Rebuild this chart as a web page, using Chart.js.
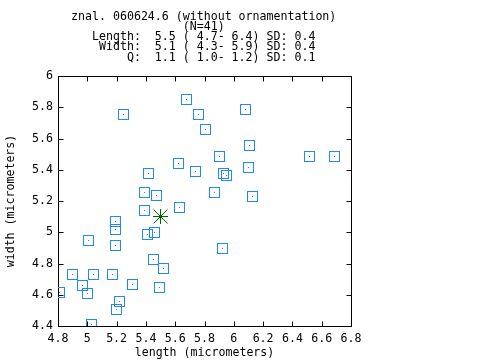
<!DOCTYPE html>
<html>
<head>
<meta charset="utf-8">
<script src="https://cdn.jsdelivr.net/npm/chart.js@4.4.1/dist/chart.umd.min.js"></script>
<style>
  html, body { margin: 0; padding: 0; background: #fff; }
  #wrap { position: relative; width: 480px; height: 360px; }
</style>
</head>
<body>
<div id="wrap"><canvas id="sizeChart" width="480" height="360"></canvas></div>
<script>
const lengths = [5.25, 5.42, 5.39, 5.68, 5.76, 5.81, 6.08, 5.90, 5.62, 5.74,
  5.93, 5.95, 6.10, 5.87, 5.47, 6.13, 5.63, 6.11, 6.52, 6.69,
  5.39, 5.19, 5.19, 5.01, 5.41, 5.19, 5.45, 4.90, 5.04, 5.17,
  4.97, 5.00, 5.31, 4.81, 5.22, 5.20, 5.03, 5.46, 5.92, 5.52, 5.49];
const widths = [5.755, 5.378, 5.256, 5.851, 5.755, 5.659, 5.787, 5.487, 5.442, 5.391,
  5.378, 5.361, 5.416, 5.256, 5.237, 5.231, 5.160, 5.557, 5.487, 5.487,
  5.141, 5.071, 5.020, 4.949, 4.988, 4.918, 4.828, 4.732, 4.732, 4.732,
  4.662, 4.611, 4.668, 4.617, 4.559, 4.508, 4.412, 5.001, 4.898, 4.770, 4.649];
const meanLength = [5.5];
const meanWidth = [5.1];

const xTicks = [4.8, 5, 5.2, 5.4, 5.6, 5.8, 6, 6.2, 6.4, 6.6, 6.8];
const yTicks = [4.4, 4.6, 4.8, 5, 5.2, 5.4, 5.6, 5.8, 6];

const headerLines = [
  "znal. 060624.6 (without ornamentation)",
  "(N=41)",
  "Length:  5.5 ( 4.7- 6.4) SD: 0.4",
  " Width:  5.1 ( 4.3- 5.9) SD: 0.4",
  "     Q:  1.1 ( 1.0- 1.2) SD: 0.1",
];

const MONO = "'DejaVu Sans Mono', 'Liberation Mono', monospace";
const FONT_SIZE = 11.6;
const boxColor = "#1e88ff";
const starColor = "#006400";

// marker images: open square with a dot, and a gnuplot-like asterisk
function makeBox() {
  const c = document.createElement("canvas");
  c.width = 11; c.height = 11;
  const g = c.getContext("2d");
  g.strokeStyle = boxColor;
  g.lineWidth = 1;
  g.strokeRect(0.5, 0.5, 10, 10);
  g.fillStyle = boxColor;
  g.fillRect(5, 5, 1, 1);
  return c;
}

function makeStar() {
  const c = document.createElement("canvas");
  c.width = 15; c.height = 15;
  const g = c.getContext("2d");
  g.strokeStyle = starColor;
  g.lineWidth = 1;
  g.beginPath();
  g.moveTo(0, 7.5); g.lineTo(15, 7.5);
  g.moveTo(7.5, 0); g.lineTo(7.5, 15);
  g.moveTo(0.5, 0.5); g.lineTo(14.5, 14.5);
  g.moveTo(14.5, 0.5); g.lineTo(0.5, 14.5);
  g.stroke();
  g.fillStyle = starColor;
  g.fillRect(6, 6, 3, 3);
  return c;
}

const framePlugin = {
  id: "frame",
  beforeDatasetsDraw(chart) {
    const { ctx, chartArea: a, scales } = chart;
    // snap markers to whole pixels so the image markers stay crisp
    chart.data.datasets.forEach((ds, i) => {
      chart.getDatasetMeta(i).data.forEach((pt) => {
        pt.x = Math.floor(pt.x) + 0.5;
        pt.y = Math.floor(pt.y) + 0.5;
      });
    });
    const L = Math.round(a.left) + 0.5, R = Math.round(a.right) + 0.5;
    const T = Math.round(a.top) + 0.5, B = Math.round(a.bottom) + 0.5;
    ctx.save();
    ctx.strokeStyle = "#000";
    ctx.lineWidth = 1;
    ctx.beginPath();
    xTicks.forEach((v) => {
      const px = Math.round(scales.x.getPixelForValue(v)) + 0.5;
      ctx.moveTo(px, B); ctx.lineTo(px, B - 5);
      ctx.moveTo(px, T); ctx.lineTo(px, T + 5);
    });
    yTicks.forEach((v) => {
      const py = Math.round(scales.y.getPixelForValue(v)) + 0.5;
      ctx.moveTo(L, py); ctx.lineTo(L + 5, py);
      ctx.moveTo(R, py); ctx.lineTo(R - 5, py);
    });
    ctx.stroke();
    ctx.strokeRect(L, T, R - L, B - T);
    ctx.restore();
  },
  afterDraw(chart) {
    const { ctx, chartArea: a } = chart;
    const cx = (a.left + a.right) / 2 - 0.8;
    ctx.save();
    ctx.fillStyle = "#000";
    ctx.font = FONT_SIZE + "px " + MONO;
    ctx.textAlign = "center";
    ctx.textBaseline = "alphabetic";
    headerLines.forEach((line, i) => {
      ctx.fillText(line, cx, 19.5 + i * 10.25);
    });
    ctx.restore();
  },
};

const tickFont = { family: MONO, size: FONT_SIZE };

new Chart(document.getElementById("sizeChart"), {
  type: "scatter",
  data: {
    datasets: [
      {
        label: "spores",
        data: lengths.map((x, i) => ({ x: x, y: widths[i] })),
        pointStyle: makeBox(),
        pointRadius: 5.5,
        pointHoverRadius: 5.5,
      },
      {
        label: "mean",
        data: meanLength.map((x, i) => ({ x: x, y: meanWidth[i] })),
        pointStyle: makeStar(),
        pointRadius: 7.5,
        pointHoverRadius: 7.5,
      },
    ],
  },
  options: {
    responsive: false,
    animation: false,
    devicePixelRatio: 1,
    layout: { padding: { top: 76, right: 129, bottom: 0, left: 0 } },
    plugins: {
      legend: { display: false },
      title: { display: false },
      tooltip: { enabled: false },
    },
    scales: {
      x: {
        type: "linear",
        min: 4.8,
        max: 6.8,
        afterBuildTicks: (s) => { s.ticks = xTicks.map((v) => ({ value: v })); },
        afterFit: (s) => { s.height = 34; },
        grid: { display: false, drawTicks: false },
        border: { display: false },
        ticks: {
          font: tickFont,
          color: "#000",
          padding: 6,
          maxRotation: 0,
          autoSkip: false,
          callback: (v) => String(v),
        },
        title: {
          display: true,
          text: "length (micrometers)",
          font: tickFont,
          color: "#000",
          padding: { top: 0, bottom: 0 },
        },
      },
      y: {
        type: "linear",
        min: 4.4,
        max: 6,
        afterBuildTicks: (s) => { s.ticks = yTicks.map((v) => ({ value: v })); },
        afterFit: (s) => { s.width = 58; },
        grid: { display: false, drawTicks: false },
        border: { display: false },
        ticks: {
          font: tickFont,
          color: "#000",
          padding: 5,
          autoSkip: false,
          callback: (v) => String(v),
        },
        title: {
          display: true,
          text: "width (micrometers)",
          font: tickFont,
          color: "#000",
          padding: { top: 4, bottom: 0 },
        },
      },
    },
  },
  plugins: [framePlugin],
});
</script>
</body>
</html>
